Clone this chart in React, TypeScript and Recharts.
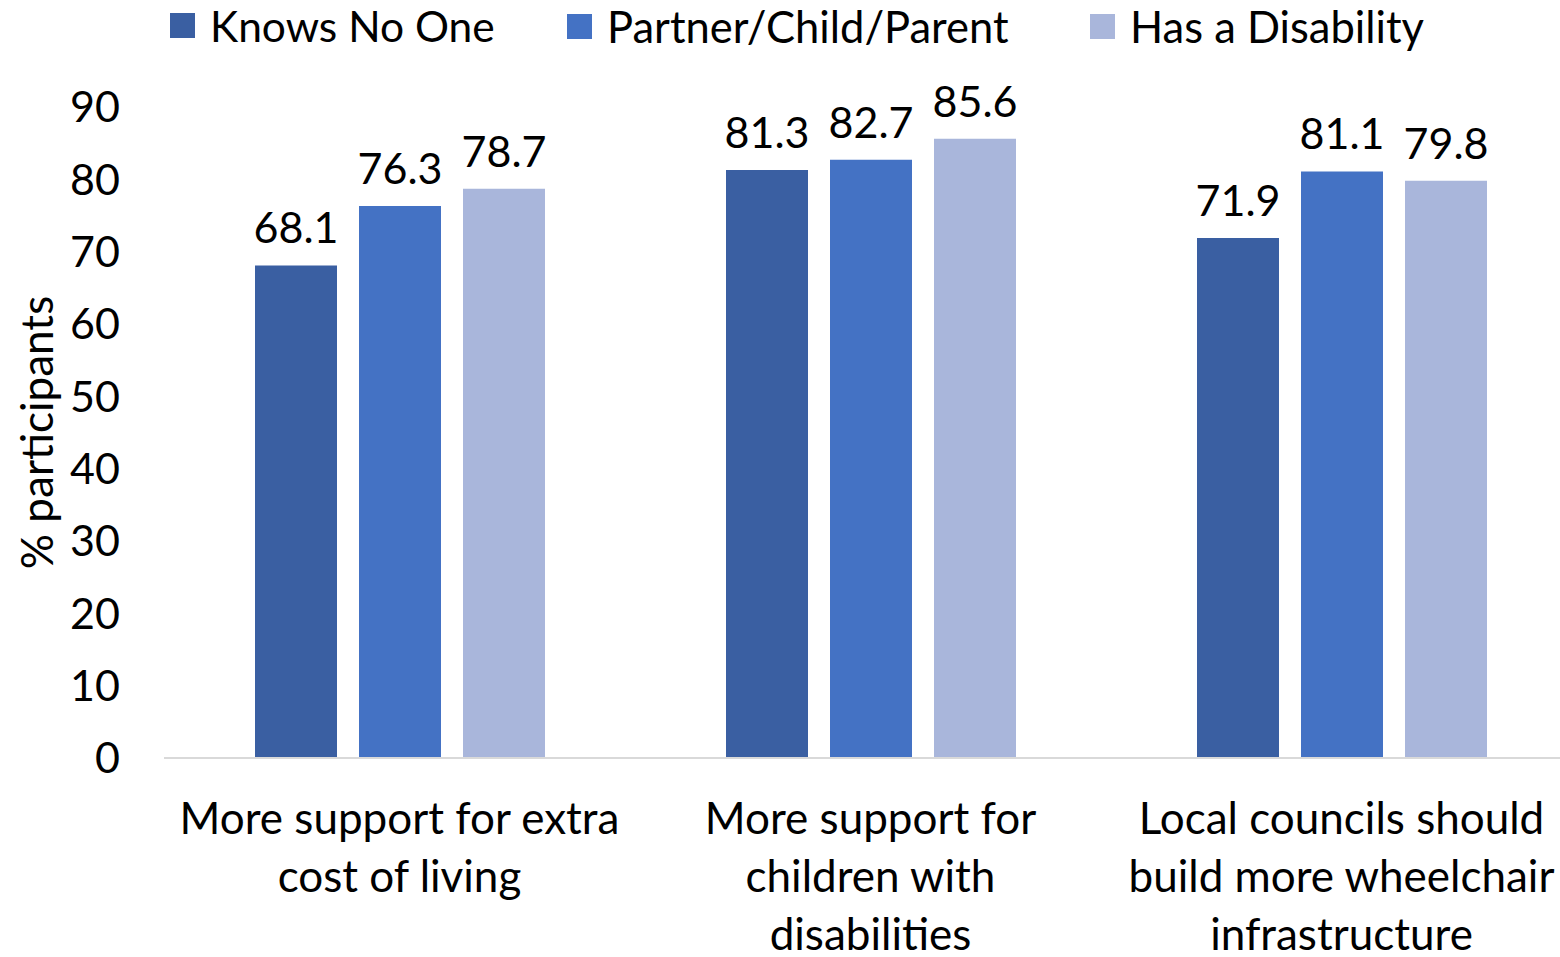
import { Bar, BarChart, LabelList, XAxis, YAxis } from "recharts";

const categories = [
  "More support for extra cost of living",
  "More support for children with disabilities",
  "Local councils should build more wheelchair infrastructure",
];
// wrapped the way the source chart breaks them
const categoryLines = [
  ["More support for extra", "cost of living"],
  ["More support for", "children with", "disabilities"],
  ["Local councils should", "build more wheelchair", "infrastructure"],
];
const knowsNoOne = [68.1, 81.3, 71.9];
const partnerChildParent = [76.3, 82.7, 81.1];
const hasDisability = [78.7, 85.6, 79.8];
const yTicks = [0, 10, 20, 30, 40, 50, 60, 70, 80, 90];

const FONT = "Lato, 'Open Sans', sans-serif";

const series = [
  { key: "knows", name: "Knows No One", color: "#3A5FA2", left: 170 },
  { key: "partner", name: "Partner/Child/Parent", color: "#4472C4", left: 567 },
  { key: "disability", name: "Has a Disability", color: "#A9B6DB", left: 1090 },
];

const data = categories.map((c, i) => ({
  category: c,
  knows: knowsNoOne[i],
  partner: partnerChildParent[i],
  disability: hasDisability[i],
}));

function CategoryTick(props: any) {
  const { x, y, payload } = props;
  const lines = categoryLines[payload.index] ?? [payload.value];
  return (
    <g>
      {lines.map((line, i) => (
        <text
          key={i}
          x={x}
          y={y + 68 + i * 58}
          textAnchor="middle"
          fontFamily={FONT}
          fontSize={44}
          fill="#000"
        >
          {line}
        </text>
      ))}
    </g>
  );
}

function TopLegend() {
  return (
    <>
      {series.map((s) => (
        <div
          key={s.key}
          style={{
            position: "absolute",
            left: s.left,
            top: 0,
            display: "flex",
            alignItems: "center",
            fontFamily: FONT,
            fontSize: s.key === "knows" ? 42.5 : 43.5,
            color: "#000",
            whiteSpace: "nowrap",
          }}
        >
          <span style={{ width: 25, height: 25, background: s.color, marginRight: 15 }} />
          <span>{s.name}</span>
        </div>
      ))}
    </>
  );
}

export default function App() {
  return (
    <div
      style={{
        position: "absolute",
        left: 0,
        top: 0,
        width: 1560,
        height: 957,
        overflow: "hidden",
        background: "#fff",
      }}
    >
      <BarChart
        width={1577}
        height={957}
        data={data}
        margin={{ top: 107, right: 0, left: 0, bottom: 0 }}
        barSize={82}
        barGap={22}
      >
        <XAxis
          dataKey="category"
          axisLine={{ stroke: "#D9D9D9", strokeWidth: 2 }}
          tickLine={false}
          height={199}
          interval={0}
          tick={<CategoryTick />}
        />
        <YAxis
          width={164}
          domain={[0, 90]}
          ticks={yTicks}
          axisLine={false}
          tickLine={false}
          tickMargin={38}
          tick={{ fontFamily: FONT, fontSize: 43, fill: "#000" }}
          label={{
            value: "% participants",
            angle: -90,
            position: "insideLeft",
            dx: 32,
            style: { fontFamily: FONT, fontSize: 44, fill: "#000", textAnchor: "middle" },
          }}
        />
        {series.map((s) => (
          <Bar key={s.key} dataKey={s.key} name={s.name} fill={s.color} isAnimationActive={false}>
            <LabelList
              dataKey={s.key}
              position="top"
              offset={22}
              style={{ fontFamily: FONT, fontSize: 43, fill: "#000" }}
            />
          </Bar>
        ))}
      </BarChart>
      <TopLegend />
    </div>
  );
}
